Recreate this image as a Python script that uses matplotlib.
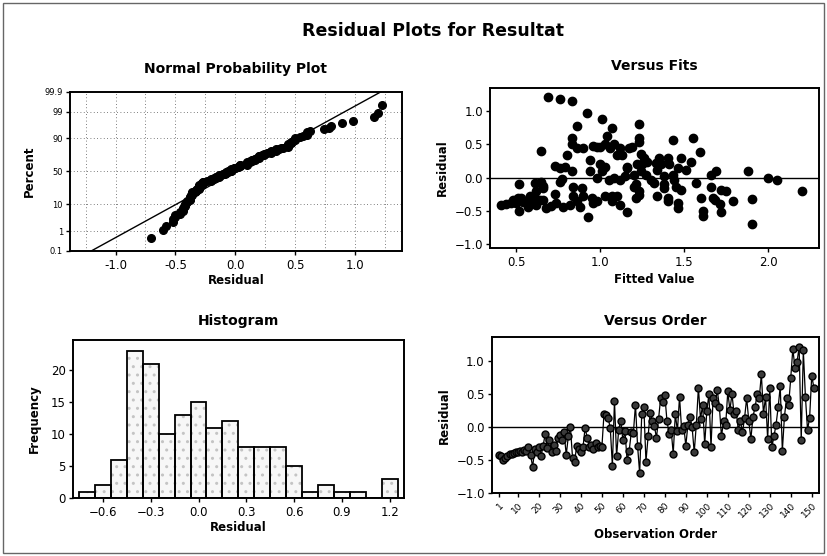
import statistics

import matplotlib

matplotlib.use("Agg")
import matplotlib.pyplot as plt
from matplotlib.patches import Rectangle
import numpy as np

residuals = [
    -0.42, -0.44, -0.50, -0.46, -0.43, -0.41, -0.40, -0.39, -0.38, -0.37,
    -0.36, -0.38, -0.34, -0.36, -0.30, -0.42, -0.60, -0.33, -0.38, -0.30,
    -0.44, -0.28, -0.10, -0.32, -0.20, -0.37, -0.27, -0.36, -0.16, -0.12,
    -0.20, -0.08, -0.42, -0.14, 0.00, -0.46, -0.52, -0.28, -0.33, -0.38,
    -0.30, -0.01, -0.16, -0.30, -0.27, -0.33, -0.24, -0.30, -0.28, -0.30,
    0.20, 0.18, 0.14, -0.02, -0.58, 0.40, -0.44, -0.04, 0.10, -0.20,
    -0.06, -0.50, -0.36, -0.08, -0.09, 0.34, -0.28, -0.70, 0.20, 0.30,
    -0.52, -0.14, 0.22, 0.10, 0.02, -0.16, 0.12, 0.44, 0.38, 0.48,
    0.10, -0.10, -0.04, -0.40, 0.20, -0.06, 0.46, -0.04, 0.02, -0.28,
    0.04, 0.16, 0.00, -0.38, 0.04, 0.60, 0.12, 0.34, -0.26, 0.24,
    0.50, -0.30, 0.44, 0.36, 0.56, 0.30, -0.14, 0.10, 0.04, 0.54,
    0.26, 0.50, 0.20, 0.24, -0.04, 0.10, -0.08, 0.14, 0.44, 0.10,
    -0.18, 0.16, 0.30, 0.50, 0.44, 0.80, 0.20, 0.46, -0.18, 0.60,
    -0.30, -0.14, 0.04, 0.30, 0.62, -0.36, 0.16, 0.44, 0.34, 0.74,
    1.19, 0.89, 0.98, 1.22, -0.20, 1.16, 0.46, -0.04, 0.14, 0.78,
    0.60,
]

fitted = [
    0.41, 0.57, 0.52, 0.68, 0.71, 0.82, 0.44, 0.74, 0.96, 0.56,
    0.86, 0.50, 0.64, 0.98, 0.51, 1.12, 0.93, 0.48, 0.47, 0.61,
    0.78, 0.90, 0.52, 1.90, 0.62, 0.54, 1.10, 1.07, 0.89, 0.66,
    1.75, 0.61, 0.62, 1.20, 1.08, 1.46, 1.72, 1.03, 1.68, 1.46,
    1.21, 2.00, 1.38, 1.40, 0.58, 0.66, 0.73, 1.60, 1.07, 0.53,
    1.00, 0.73, 1.16, 0.77, 1.61, 0.65, 0.88, 2.05, 0.83, 2.20,
    0.65, 1.61, 1.79, 1.57, 1.21, 1.10, 1.34, 1.90, 1.25, 1.40,
    1.16, 1.66, 1.33, 1.88, 1.38, 0.66, 1.51, 0.86, 1.59, 0.96,
    1.69, 1.38, 1.44, 1.71, 1.41, 0.76, 1.00, 1.30, 1.15, 0.84,
    1.20, 1.03, 0.98, 0.60, 1.66, 1.23, 1.34, 0.80, 1.23, 1.54,
    1.03, 1.67, 1.17, 1.24, 1.43, 1.48, 1.45, 0.94, 1.27, 1.23,
    0.94, 0.83, 1.22, 1.28, 1.12, 1.24, 1.32, 0.76, 1.06, 1.01,
    1.72, 1.16, 1.35, 1.08, 0.90, 1.23, 1.36, 1.19, 1.48, 0.83,
    0.95, 0.84, 1.43, 1.26, 1.04, 1.40, 0.79, 1.12, 1.13, 1.07,
    0.76, 1.01, 0.92, 0.69, 1.23, 0.83, 0.98, 1.05, 1.46, 0.86,
    1.55,
]

pct_ticks = [0.1, 1, 10, 50, 90, 99, 99.9]
pct_labels = ["0.1", "1", "10", "50", "90", "99", "99.9"]
hist_edges = np.arange(-0.75, 1.26, 0.1)
order_ticks = [1, 10, 20, 30, 40, 50, 60, 70, 80, 90, 100, 110, 120, 130, 140, 150]

plt.rcParams["font.family"] = ["DejaVu Sans"]
plt.rcParams["xtick.labelsize"] = 8.5
plt.rcParams["ytick.labelsize"] = 8.5
plt.rcParams["xtick.major.size"] = 3
plt.rcParams["ytick.major.size"] = 3
plt.rcParams["xtick.major.pad"] = 2.5
plt.rcParams["ytick.major.pad"] = 2

res = np.array(residuals)
fit = np.array(fitted)
n = len(res)
nd = statistics.NormalDist()

fig = plt.figure(figsize=(8.27, 5.56), dpi=100)
fig.patches.append(
    Rectangle((0.004, 0.005), 0.992, 0.99, transform=fig.transFigure,
              fill=False, edgecolor="#666666", linewidth=1)
)
fig.text(0.523, 0.944, "Residual Plots for Resultat", ha="center", va="center",
         fontsize=12.5, fontweight="bold")


def frame(ax):
    for s in ax.spines.values():
        s.set_linewidth(1.4)
    ax.tick_params(direction="out", width=1)


# normal probability plot
ax1 = fig.add_axes([0.0846, 0.5486, 0.4015, 0.286])
srt = np.sort(res)
z = np.array([nd.inv_cdf((i + 1 - 0.3) / (n + 0.4)) for i in range(n)])
zlim = nd.inv_cdf(0.999)
mu, sd = res.mean(), res.std(ddof=1)
ax1.plot([mu - sd * zlim, mu + sd * zlim], [-zlim, zlim], color="black", lw=1)
ax1.plot(srt, z, "o", color="black", ms=5.5, zorder=3)
ax1.set_xlim(-1.38, 1.39)
ax1.set_ylim(-zlim, zlim)
ax1.set_yticks([nd.inv_cdf(p / 100) for p in pct_ticks], pct_labels, fontsize=6)
ax1.set_xticks([-1.0, -0.5, 0.0, 0.5, 1.0], ["-1.0", "-0.5", "0.0", "0.5", "1.0"])
for gx in np.arange(-1.25, 1.3, 0.25):
    ax1.axvline(gx, color="#555555", lw=0.6, ls=(0, (1, 3)), zorder=0)
for p in pct_ticks[1:-1]:
    ax1.axhline(nd.inv_cdf(p / 100), color="#555555", lw=0.6, ls=(0, (1, 3)), zorder=0)
ax1.set_title("Normal Probability Plot", fontsize=10, fontweight="bold", pad=14)
ax1.set_xlabel("Residual", fontsize=8.5, fontweight="bold", labelpad=2)
ax1.set_ylabel("Percent", fontsize=8.5, fontweight="bold", labelpad=6)
frame(ax1)

# versus fits
ax2 = fig.add_axes([0.5925, 0.554, 0.3978, 0.2878])
ax2.axhline(0, color="black", lw=1)
ax2.plot(fit, res, "o", color="black", ms=6)
ax2.set_xlim(0.345, 2.30)
ax2.set_ylim(-1.06, 1.35)
ax2.set_xticks([0.5, 1.0, 1.5, 2.0])
ax2.set_yticks([-1.0, -0.5, 0.0, 0.5, 1.0])
ax2.set_title("Versus Fits", fontsize=10, fontweight="bold", pad=13)
ax2.set_xlabel("Fitted Value", fontsize=8.5, fontweight="bold", labelpad=3)
ax2.set_ylabel("Residual", fontsize=8.5, fontweight="bold", labelpad=4)
frame(ax2)

# histogram (stippled fill, then black outlines)
ax3 = fig.add_axes([0.0879, 0.1043, 0.4006, 0.2842])
ax3.hist(res, bins=hist_edges, facecolor="#f7f7f7", edgecolor="#c4c4c4",
         hatch="..", linewidth=0)
ax3.hist(res, bins=hist_edges, facecolor="none", edgecolor="black", linewidth=1.3)
ax3.set_xlim(-0.79, 1.29)
ax3.set_ylim(0, 24.7)
ax3.set_xticks([-0.6, -0.3, 0.0, 0.3, 0.6, 0.9, 1.2])
ax3.set_yticks([0, 5, 10, 15, 20])
ax3.set_title("Histogram", fontsize=10, fontweight="bold", pad=11)
ax3.set_xlabel("Residual", fontsize=8.5, fontweight="bold", labelpad=2)
ax3.set_ylabel("Frequency", fontsize=8.5, fontweight="bold", labelpad=7)
frame(ax3)

# versus order
ax4 = fig.add_axes([0.5946, 0.1128, 0.3958, 0.2806])
obs = np.arange(1, n + 1)
ax4.axhline(0, color="black", lw=1)
ax4.plot(obs, res, "-o", color="black", lw=0.9, ms=5, mfc="#3a3a3a")
ax4.set_xlim(-2.5, 153.5)
ax4.set_ylim(-1.0, 1.36)
ax4.set_xticks(order_ticks)
ax4.set_xticklabels([str(t) for t in order_ticks], rotation=45, fontsize=6.5,
                    ha="right", rotation_mode="anchor")
ax4.set_yticks([-1.0, -0.5, 0.0, 0.5, 1.0])
ax4.set_title("Versus Order", fontsize=10, fontweight="bold", pad=9)
ax4.set_xlabel("Observation Order", fontsize=8.5, fontweight="bold", labelpad=6)
ax4.set_ylabel("Residual", fontsize=8.5, fontweight="bold", labelpad=4)
frame(ax4)

fig.savefig("out.png", dpi=100)
